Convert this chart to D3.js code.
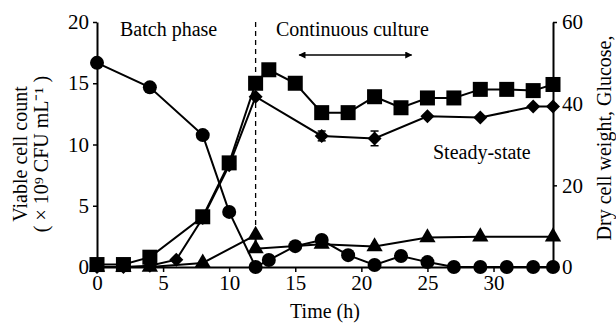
<!DOCTYPE html>
<html>
<head>
<meta charset="utf-8">
<script src="https://cdn.jsdelivr.net/npm/d3@7"></script>
<style>
  body { margin: 0; background: #fff; }
  svg { display: block; }
  text { font-family: "Liberation Serif", "Times New Roman", serif; fill: #000; }
</style>
</head>
<body>
<script>
var width = 616;
var height = 324;

// viable cell count (x10^9 CFU/mL), left axis
var squareTime = [0, 2, 4, 8, 10, 12, 13, 15, 17, 19, 21, 23, 25, 27, 29, 31, 33, 34.5];
var squareVal  = [0.2, 0.2, 0.8, 4.1, 8.5, 15.0, 16.1, 15.0, 12.6, 12.6, 13.9, 13.0, 13.8, 13.8, 14.5, 14.5, 14.4, 14.9];

// dry cell weight, right axis values shown on left scale
var diamondTime = [0, 2, 4, 6, 8, 10, 12, 17, 21, 25, 29, 33, 34.5];
var diamondVal  = [0, 0, 0.1, 0.6, 4.0, 8.3, 13.9, 10.7, 10.5, 12.3, 12.2, 13.1, 13.1];
var diamondErr  = [0, 0, 0, 0, 0, 0, 0, 0.4, 0.6, 0, 0, 0, 0];

// glucose (g/L), right axis
var circleTime = [0, 4, 8, 10, 12, 13, 15, 17, 19, 21, 23, 25, 27, 29, 31, 33, 34.5];
var circleVal  = [50, 44, 32.3, 13.5, 0, 1.7, 5.1, 6.6, 2.9, 0.5, 2.7, 1.2, 0, 0, 0, 0, 0];

// triangles, right axis
var triTime = [0, 2, 4, 8, 12, 12, 17, 21, 25, 29, 34.5];
var triVal  = [0, 0, 0, 1.0, 7.8, 4.5, 5.6, 5.0, 7.2, 7.4, 7.4];

var xTicks = [0, 5, 10, 15, 20, 25, 30];
var leftTicks = [0, 5, 10, 15, 20];
var rightTicks = [0, 20, 40, 60];

var svg = d3.select("body").append("svg")
    .attr("width", width)
    .attr("height", height);

var x = d3.scaleLinear().domain([0, 34.5]).range([97, 553]);
var yL = d3.scaleLinear().domain([0, 20]).range([267, 22]);
var yR = d3.scaleLinear().domain([0, 60]).range([267, 22]);

function pts(t, v) {
  return t.map(function(d, i) { return {t: d, v: v[i], i: i}; });
}

// axes
var ax = svg.append("g").attr("transform", "translate(0,267)")
  .call(d3.axisBottom(x).tickValues(xTicks).tickSize(5).tickSizeOuter(0));
var al = svg.append("g").attr("transform", "translate(97,0)")
  .call(d3.axisLeft(yL).tickValues(leftTicks).tickSize(4).tickSizeOuter(0));
var ar = svg.append("g").attr("transform", "translate(553,0)")
  .call(d3.axisRight(yR).tickValues(rightTicks).tickSize(4).tickSizeOuter(0));

[ax, al, ar].forEach(function(g) {
  g.select(".domain").attr("stroke", "#000").attr("stroke-width", 2);
  g.selectAll(".tick line").attr("stroke", "#000").attr("stroke-width", 1.5);
  g.selectAll(".tick text")
    .style("font-family", "Liberation Serif")
    .style("font-size", "21px")
    .attr("fill", "#000");
});
ax.selectAll(".tick text").attr("dy", "0.45em").attr("y", 14);
al.selectAll(".tick text").attr("x", -8);
ar.selectAll(".tick text").attr("x", 9);

// dashed line at 12 h
svg.append("line")
  .attr("x1", x(12)).attr("x2", x(12))
  .attr("y1", yL(20)).attr("y2", 232)
  .attr("stroke", "#000").attr("stroke-width", 1.3)
  .attr("stroke-dasharray", "5,4");

var line = function(yScale) {
  return d3.line().x(function(d) { return x(d.t); }).y(function(d) { return yScale(d.v); });
};

var sq = pts(squareTime, squareVal);
var di = pts(diamondTime, diamondVal);
var ci = pts(circleTime, circleVal);
var tr = pts(triTime, triVal);

[[sq, yL], [di, yL], [ci, yR], [tr, yR]].forEach(function(s) {
  svg.append("path")
    .attr("d", line(s[1])(s[0]))
    .attr("fill", "none")
    .attr("stroke", "#000")
    .attr("stroke-width", 2);
});

// error bars
di.filter(function(d) { return diamondErr[d.i] > 0; }).forEach(function(d) {
  var e = diamondErr[d.i];
  var g = svg.append("g").attr("stroke", "#000").attr("stroke-width", 1.5);
  g.append("line").attr("x1", x(d.t)).attr("x2", x(d.t)).attr("y1", yL(d.v + e)).attr("y2", yL(d.v - e));
  g.append("line").attr("x1", x(d.t) - 4).attr("x2", x(d.t) + 4).attr("y1", yL(d.v + e)).attr("y2", yL(d.v + e));
  g.append("line").attr("x1", x(d.t) - 4).attr("x2", x(d.t) + 4).attr("y1", yL(d.v - e)).attr("y2", yL(d.v - e));
});

// markers
svg.selectAll(".tri").data(tr).enter().append("path")
  .attr("d", d3.symbol().type(d3.symbolTriangle).size(115))
  .attr("transform", function(d) { return "translate(" + x(d.t) + "," + yR(d.v) + ")"; })
  .attr("fill", "#000");

svg.selectAll(".circ").data(ci).enter().append("circle")
  .attr("cx", function(d) { return x(d.t); })
  .attr("cy", function(d) { return yR(d.v); })
  .attr("r", 7)
  .attr("fill", "#000");

svg.selectAll(".sq").data(sq).enter().append("rect")
  .attr("x", function(d) { return x(d.t) - 7.5; })
  .attr("y", function(d) { return yL(d.v) - 7.5; })
  .attr("width", 15).attr("height", 15)
  .attr("fill", "#000");

svg.selectAll(".dia").data(di).enter().append("path")
  .attr("d", "M0,-7L7,0L0,7L-7,0Z")
  .attr("transform", function(d) { return "translate(" + x(d.t) + "," + yL(d.v) + ")"; })
  .attr("fill", "#000");

// arrow
var defs = svg.append("defs");
defs.append("marker").attr("id", "ah")
  .attr("viewBox", "0 0 10 10").attr("refX", 9).attr("refY", 5)
  .attr("markerWidth", 10).attr("markerHeight", 7)
  .attr("markerUnits", "userSpaceOnUse")
  .attr("orient", "auto-start-reverse")
  .append("path").attr("d", "M0,0L10,5L0,10Z").attr("fill", "#000");
svg.append("line")
  .attr("x1", x(15.3)).attr("x2", x(23.8))
  .attr("y1", 55).attr("y2", 55)
  .attr("stroke", "#000").attr("stroke-width", 1.3)
  .attr("marker-start", "url(#ah)").attr("marker-end", "url(#ah)");

// annotations
svg.append("text").attr("x", 120).attr("y", 36).style("font-size", "20px").text("Batch phase");
svg.append("text").attr("x", 276).attr("y", 36).style("font-size", "20px").text("Continuous culture");
svg.append("text").attr("x", 433).attr("y", 159).style("font-size", "20px").text("Steady-state");

// axis titles
svg.append("text").attr("x", 325).attr("y", 318).attr("text-anchor", "middle")
  .style("font-size", "20px").text("Time (h)");

var yt = svg.append("text").attr("transform", "translate(27,154) rotate(-90)")
  .attr("text-anchor", "middle").style("font-size", "20px");
yt.append("tspan").attr("x", 0).attr("y", 0).text("Viable cell count");
yt.append("tspan").attr("x", 0).attr("y", 21).text("( \u00d7 10\u2079 CFU mL\u207b\u00b9 )");

svg.append("text").attr("transform", "translate(611,138) rotate(-90)")
  .attr("text-anchor", "middle").style("font-size", "20px")
  .text("Dry cell weight, Glucose,");
</script>
</body>
</html>
